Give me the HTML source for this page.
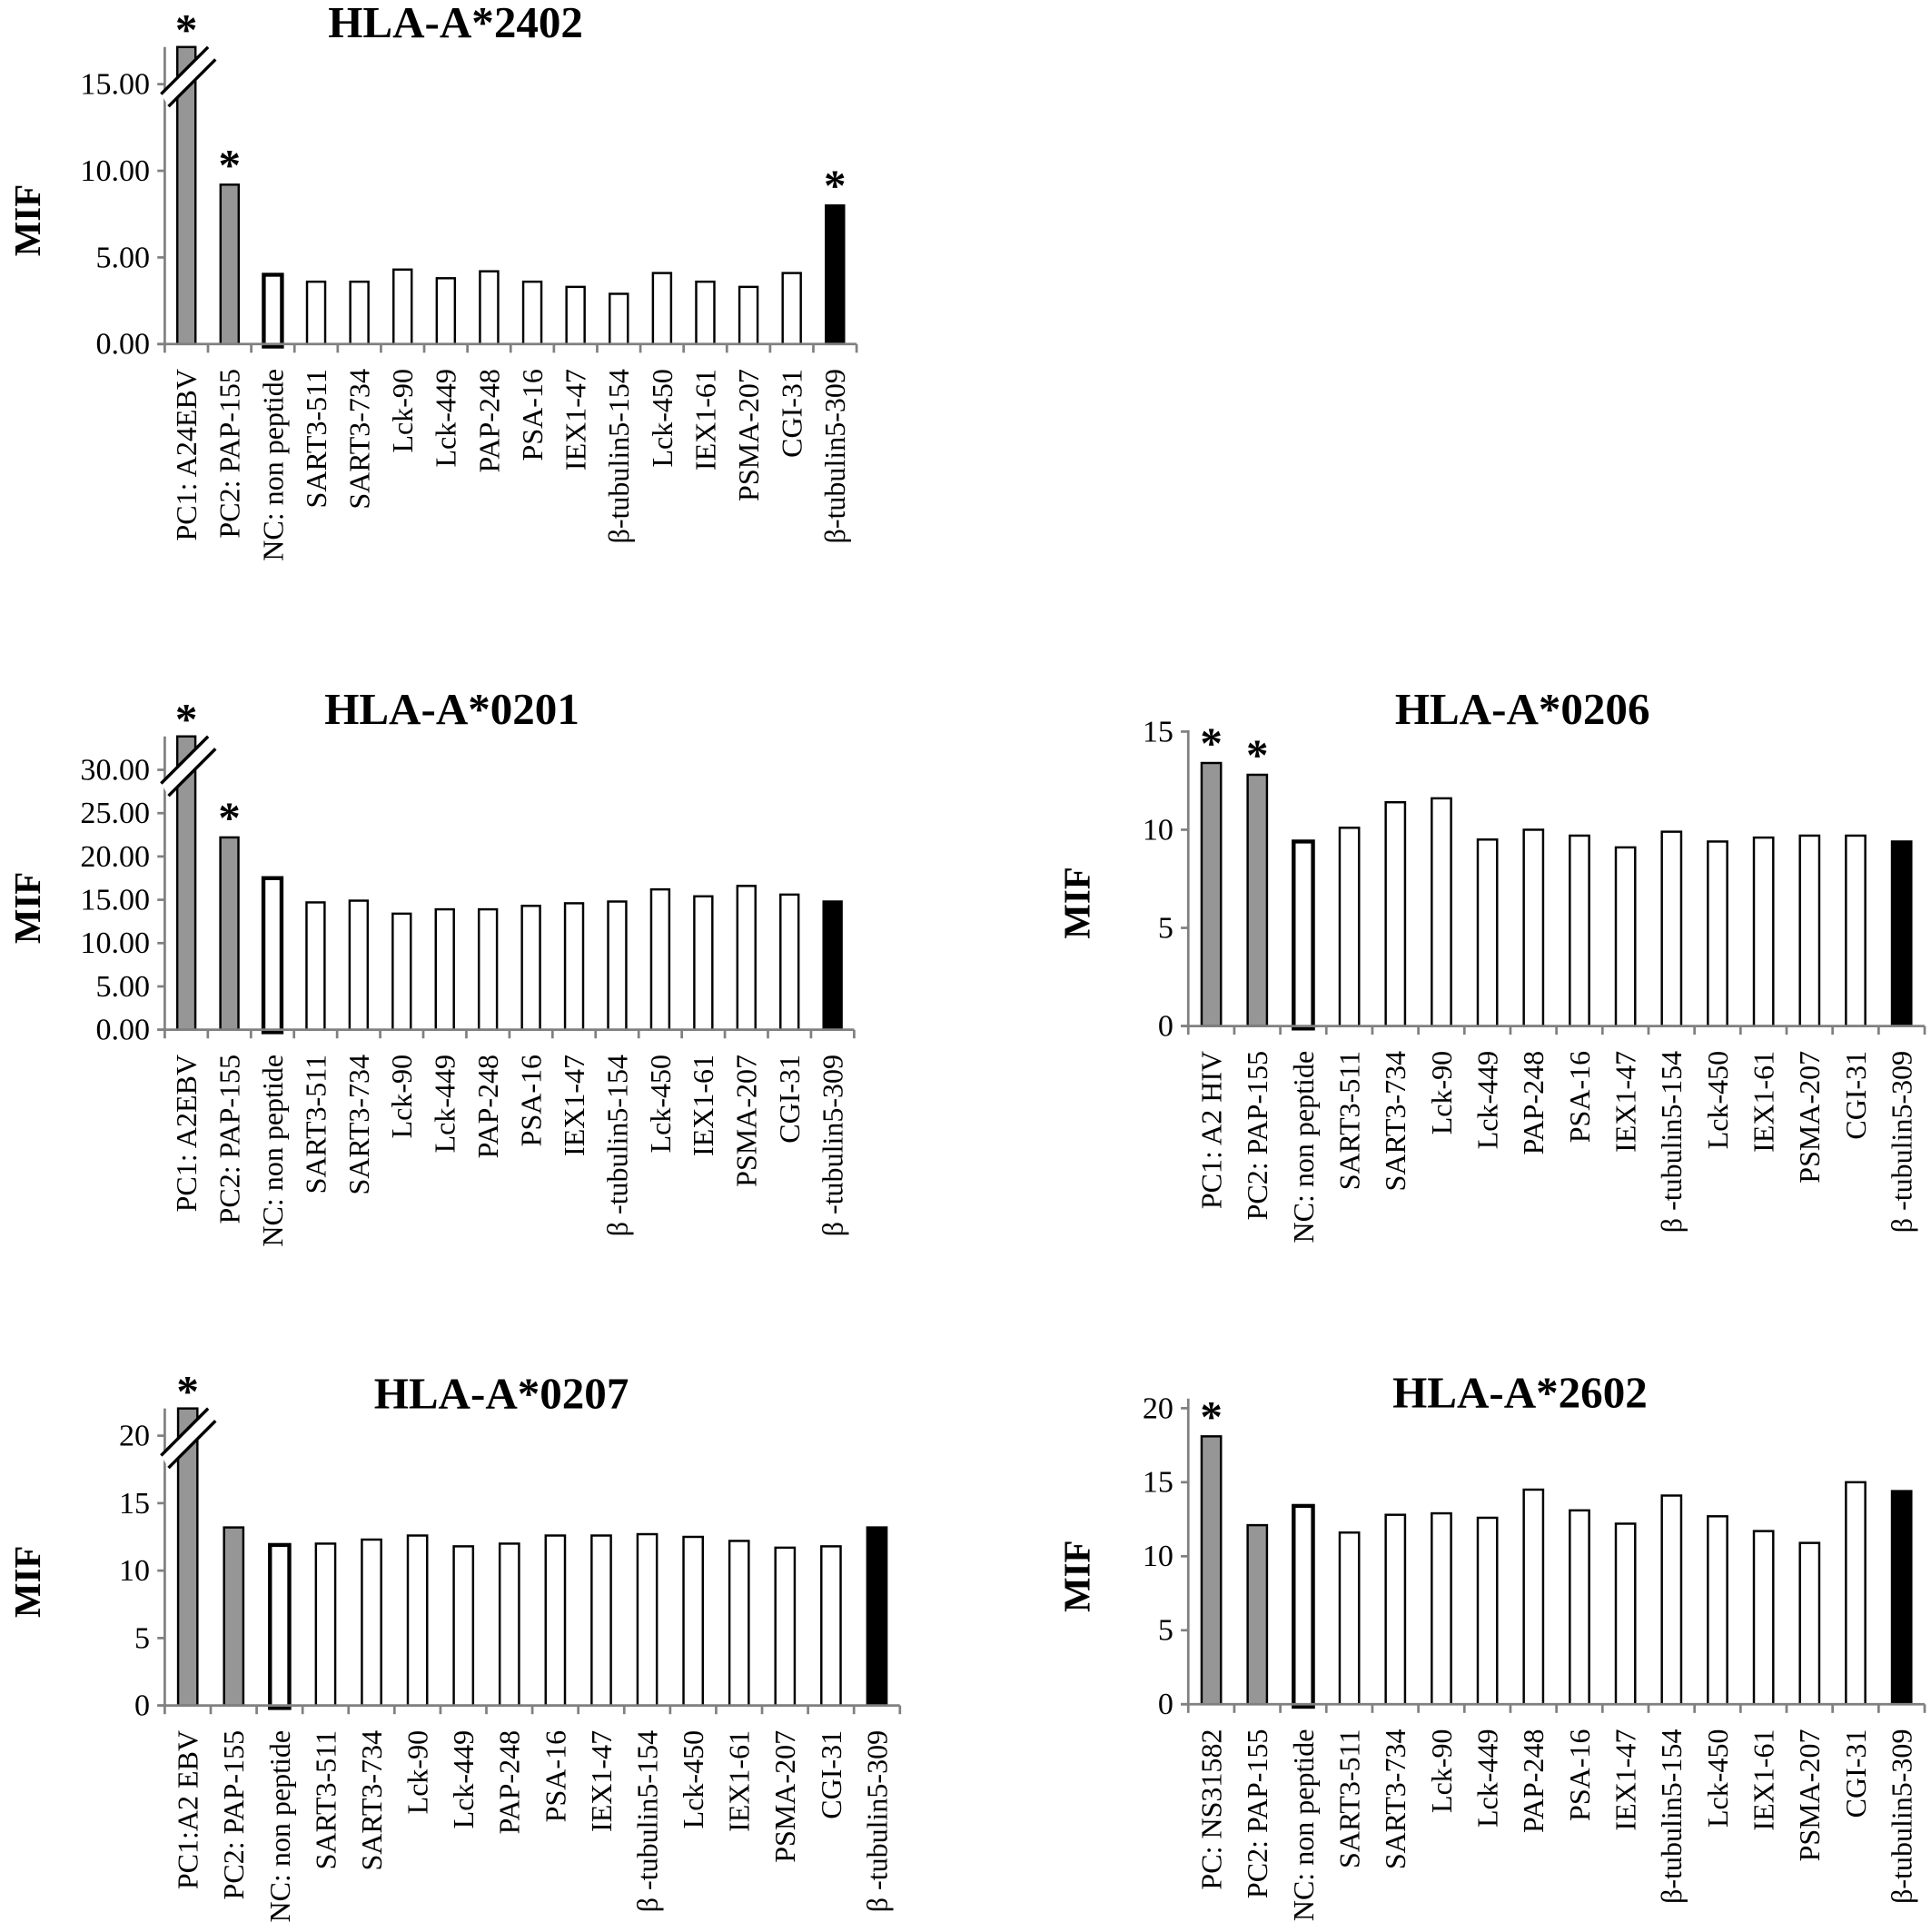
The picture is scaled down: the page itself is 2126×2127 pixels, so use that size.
<!DOCTYPE html>
<html><head><meta charset="utf-8">
<style>
html,body{margin:0;padding:0;background:#fff;}
svg{display:block;}
text{font-family:"Liberation Serif",serif;}
</style></head>
<body>
<svg id="root" width="2126" height="2127" viewBox="0 0 1560 1561" xmlns="http://www.w3.org/2000/svg"></svg>
<script>
const cats1 = ["PC1: A24EBV","PC2: PAP-155","NC: non peptide","SART3-511","SART3-734","Lck-90","Lck-449","PAP-248","PSA-16","IEX1-47","β-tubulin5-154","Lck-450","IEX1-61","PSMA-207","CGI-31","β-tubulin5-309"];
const vals1 = [null,9.2,4.0,3.6,3.6,4.3,3.8,4.2,3.6,3.3,2.9,4.1,3.6,3.3,4.1,8.0];
const ticks1 = ["0.00","5.00","10.00","15.00"];
const stars1 = [0,1,15];

const cats2 = ["PC1: A2EBV","PC2: PAP-155","NC: non peptide","SART3-511","SART3-734","Lck-90","Lck-449","PAP-248","PSA-16","IEX1-47","β -tubulin5-154","Lck-450","IEX1-61","PSMA-207","CGI-31","β -tubulin5-309"];
const vals2 = [null,22.2,17.5,14.7,14.9,13.4,13.9,13.9,14.3,14.6,14.8,16.2,15.4,16.6,15.6,14.8];
const ticks2 = ["0.00","5.00","10.00","15.00","20.00","25.00","30.00"];
const stars2 = [0,1];

const cats3 = ["PC1: A2 HIV","PC2: PAP-155","NC: non peptide","SART3-511","SART3-734","Lck-90","Lck-449","PAP-248","PSA-16","IEX1-47","β -tubulin5-154","Lck-450","IEX1-61","PSMA-207","CGI-31","β -tubulin5-309"];
const vals3 = [13.4,12.8,9.4,10.1,11.4,11.6,9.5,10.0,9.7,9.1,9.9,9.4,9.6,9.7,9.7,9.4];
const ticks3 = ["0","5","10","15"];
const stars3 = [0,1];

const cats4 = ["PC1:A2 EBV","PC2: PAP-155","NC: non peptide","SART3-511","SART3-734","Lck-90","Lck-449","PAP-248","PSA-16","IEX1-47","β -tubulin5-154","Lck-450","IEX1-61","PSMA-207","CGI-31","β -tubulin5-309"];
const vals4 = [null,13.2,11.9,12.0,12.3,12.6,11.8,12.0,12.6,12.6,12.7,12.5,12.2,11.7,11.8,13.2];
const ticks4 = ["0","5","10","15","20"];
const stars4 = [0];

const cats5 = ["PC: NS31582","PC2: PAP-155","NC: non peptide","SART3-511","SART3-734","Lck-90","Lck-449","PAP-248","PSA-16","IEX1-47","β-tubulin5-154","Lck-450","IEX1-61","PSMA-207","CGI-31","β-tubulin5-309"];
const vals5 = [18.1,12.1,13.4,11.6,12.8,12.9,12.6,14.5,13.1,12.2,14.1,12.7,11.7,10.9,15.0,14.4];
const ticks5 = ["0","5","10","15","20"];
const stars5 = [0];

const NS="http://www.w3.org/2000/svg";
const root=document.getElementById('root');
function mk(tag,attrs,parent){const e=document.createElementNS(NS,tag);for(const k in attrs)e.setAttribute(k,attrs[k]);parent.appendChild(e);return e;}

function chart(cfg){
  const g=mk('g',{},root);
  
  
  const {x0,x1,base,top,step,tickStep,cats,vals,ticks,stars}=cfg;
  const yOf=v=>base-(v/tickStep)*step;
  const n=cats.length, w=(x1-x0)/n, bw=w*0.42;
  const xc=i=>x0+w*(i+0.5);
  const t=mk('text',{x:cfg.tx,y:cfg.ty,'text-anchor':'middle','font-size':36,'font-weight':'bold'},g);
  t.textContent=cfg.title;
  
  
  const yl=mk('text',{x:0,y:0,'text-anchor':'middle','font-size':30,'font-weight':'bold',transform:`translate(${cfg.mx},${(base+top)/2+20}) rotate(-90)`},g);
  yl.textContent='MIF';
  
  
  vals.forEach((v,i)=>{
    const yt = v===null ? top : yOf(v);
    let fill='#fff',sw=1.8,stroke='#000';
    if(cfg.gray.includes(i)) fill='#969696';
    if(i===n-1){fill='#000';}
    if(i===2) sw=3.2;
    const r=mk('rect',{x:xc(i)-bw/2,y:yt,width:bw,height:base-yt+(i===2?2:0),fill:fill,stroke:stroke,'stroke-width':sw},g);
    
    
  });
  const ya=mk('line',{x1:x0,y1:top,x2:x0,y2:base,stroke:'#808080','stroke-width':2},g);
  
  
  const xa=mk('line',{x1:x0-6,y1:base,x2:x1,y2:base,stroke:'#808080','stroke-width':2},g);
  
  
  ticks.forEach((tk,j)=>{
    const y=base-j*step;
    mk('line',{x1:x0-6,y1:y,x2:x0,y2:y,stroke:'#808080','stroke-width':2},g);
    const tt=mk('text',{x:x0-12,y:y+8,'text-anchor':'end','font-size':25},g);
    tt.textContent=tk;
    
    
  });
  for(let i=0;i<=n;i++){mk('line',{x1:x0+w*i,y1:base,x2:x0+w*i,y2:base+7,stroke:'#808080','stroke-width':2},g);}
  cats.forEach((c,i)=>{
    const tt=mk('text',{x:0,y:0,'text-anchor':'end','font-size':23.5,transform:`translate(${xc(i)+8},${base+20}) rotate(-90)`},g);
    tt.textContent=c;
    
    
  });
  stars.forEach(i=>{
    const v=vals[i]; const yt=v===null?top:yOf(v);
    const s=mk('text',{x:xc(i),y:(v===null?top-2:yt-4),'text-anchor':'middle','font-size':36,'font-weight':'bold'},g);
    s.textContent='*';
    
    
  });
  if(vals[0]===null){
    const by=cfg.breakY;
    const bx=x0;
    const p=mk('polygon',{points:`${bx-3},${by+8} ${bx+35},${by-30} ${bx+41},${by-20} ${bx+3},${by+18}`,fill:'#fff'},g);
    
    
    mk('line',{x1:bx-3,y1:by+8,x2:bx+35,y2:by-30,stroke:'#000','stroke-width':2.5},g);
    mk('line',{x1:bx+3,y1:by+18,x2:bx+41,y2:by-20,stroke:'#000','stroke-width':2.5},g);
  }
}

chart({name:'chart-hla-a2402',title:'HLA-A*2402',tx:368,ty:30,mx:32,x0:133,x1:692,base:278,top:38,step:70,tickStep:5,cats:cats1,vals:vals1,ticks:ticks1,stars:stars1,gray:[0,1],breakY:68});
chart({name:'chart-hla-a0201',title:'HLA-A*0201',tx:365,ty:585,mx:32,x0:133,x1:690,base:832,top:595,step:35,tickStep:5,cats:cats2,vals:vals2,ticks:ticks2,stars:stars2,gray:[0,1],breakY:625});
chart({name:'chart-hla-a0206',title:'HLA-A*0206',tx:1230,ty:585,mx:880,x0:960,x1:1555,base:829,top:590,step:79.3,tickStep:5,cats:cats3,vals:vals3,ticks:ticks3,stars:stars3,gray:[0,1]});
chart({name:'chart-hla-a0207',title:'HLA-A*0207',tx:405,ty:1138,mx:32,x0:133,x1:727,base:1378,top:1138,step:54.5,tickStep:5,cats:cats4,vals:vals4,ticks:ticks4,stars:stars4,gray:[0,1],breakY:1168});
chart({name:'chart-hla-a2602',title:'HLA-A*2602',tx:1228,ty:1137,mx:880,x0:960,x1:1555,base:1377,top:1130,step:59.8,tickStep:5,cats:cats5,vals:vals5,ticks:ticks5,stars:stars5,gray:[0,1]});
</script>
</body></html>
